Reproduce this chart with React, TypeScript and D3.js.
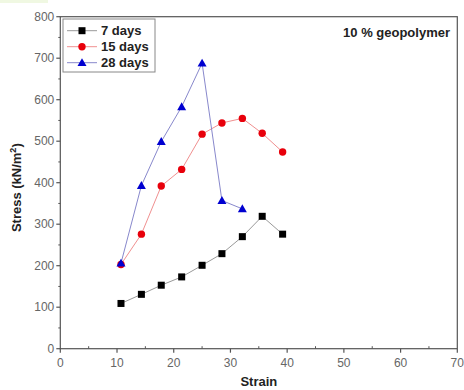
import React from "react";
import * as d3 from "d3";

const strain = [10.7, 14.3, 17.8, 21.4, 25.0, 28.5, 32.1, 35.6, 39.2];
const stress7 = [109, 131, 153, 173, 201, 229, 270, 319, 276];
const stress15 = [203, 276, 392, 432, 517, 544, 555, 519, 474];
const stress28 = [206, 393, 499, 583, 688, 357, 337];
const seriesNames = ["7 days", "15 days", "28 days"];
const xTicks = [0, 10, 20, 30, 40, 50, 60, 70];
const yTicks = [0, 100, 200, 300, 400, 500, 600, 700, 800];
const xMinor = [5, 15, 25, 35, 45, 55, 65];
const yMinor = [50, 150, 250, 350, 450, 550, 650, 750];

const W = 464, H = 390;
const L = 60.3, R = 457.3, T = 16.7, B = 348.7;

export default function App() {
  const x = d3.scaleLinear().domain([0, 70]).range([L, R]);
  const y = d3.scaleLinear().domain([0, 800]).range([B, T]);
  const line = d3.line<[number, number]>().x(d => x(d[0])).y(d => y(d[1]));
  const s7 = strain.map((s, i) => [s, stress7[i]] as [number, number]);
  const s15 = strain.map((s, i) => [s, stress15[i]] as [number, number]);
  const s28 = stress28.map((v, i) => [strain[i], v] as [number, number]);
  const axisCol = "#555";
  const tickFont = { fontFamily: "Arial, 'Liberation Sans', sans-serif", fontSize: 12, fill: "#666" };
  const bold = { fontFamily: "Arial, 'Liberation Sans', sans-serif", fontSize: 13, fontWeight: 700, fill: "#222" };
  const tri = (cx: number, cy: number, s = 4.5) =>
    `M${cx},${cy - s}L${cx + s},${cy + s * 0.75}L${cx - s},${cy + s * 0.75}Z`;
  const legendRows = [
    { name: seriesNames[0], line: "#999", kind: "sq" },
    { name: seriesNames[1], line: "#f09090", kind: "ci" },
    { name: seriesNames[2], line: "#8888cc", kind: "tr" },
  ];
  const marker = (kind: string, cx: number, cy: number, key: any) => {
    if (kind === "sq") return <rect key={key} x={cx - 3.5} y={cy - 3.5} width={7} height={7} fill="#000" />;
    if (kind === "ci") return <circle key={key} cx={cx} cy={cy} r={3.7} fill="#e8000b" />;
    return <path key={key} d={tri(cx, cy)} fill="#0000d0" />;
  };
  return (
    <svg width={W} height={H} style={{ position: "absolute", left: 0, top: 0, background: "#fff" }}>
      <rect x={0} y={0} width={48} height={3} fill="#f0f8e2" />
      <rect x={L} y={T} width={R - L} height={B - T} fill="none" stroke={axisCol} strokeWidth={1.2} />
      {yTicks.map(t => (
        <g key={"y" + t}>
          <line x1={L - 4} x2={L} y1={y(t)} y2={y(t)} stroke={axisCol} strokeWidth={1.2} />
          <text x={L - 6} y={y(t)} dy="0.35em" textAnchor="end" {...tickFont}>{t}</text>
        </g>
      ))}
      {yMinor.map(t => (
        <line key={"ym" + t} x1={L - 2} x2={L} y1={y(t)} y2={y(t)} stroke={axisCol} strokeWidth={1} />
      ))}
      {xTicks.map(t => (
        <g key={"x" + t}>
          <line x1={x(t)} x2={x(t)} y1={B} y2={B + 4} stroke={axisCol} strokeWidth={1.2} />
          <text x={x(t)} y={B + 18} textAnchor="middle" {...tickFont}>{t}</text>
        </g>
      ))}
      {xMinor.map(t => (
        <line key={"xm" + t} x1={x(t)} x2={x(t)} y1={B - 2.5} y2={B} stroke={axisCol} strokeWidth={1} />
      ))}
      <path d={line(s7) || ""} fill="none" stroke="#999" strokeWidth={1} />
      <path d={line(s15) || ""} fill="none" stroke="#f09090" strokeWidth={1} />
      <path d={line(s28) || ""} fill="none" stroke="#8888cc" strokeWidth={1} />
      {s7.map((d, i) => marker("sq", x(d[0]), y(d[1]), "a" + i))}
      {s15.map((d, i) => marker("ci", x(d[0]), y(d[1]), "b" + i))}
      {s28.map((d, i) => marker("tr", x(d[0]), y(d[1]), "c" + i))}
      <rect x={63} y={19} width={92} height={53} fill="#fff" stroke="#888" strokeWidth={1} />
      {legendRows.map((r, i) => {
        const ly = 30.7 + i * 16;
        return (
          <g key={"l" + i}>
            <line x1={67} x2={97} y1={ly} y2={ly} stroke={r.line} strokeWidth={1} />
            {marker(r.kind, 82, ly, "lm" + i)}
            <text x={101} y={ly} dy="0.35em" {...bold}>{r.name}</text>
          </g>
        );
      })}
      <text x={450} y={37} textAnchor="end" {...bold}>10 % geopolymer</text>
      <text x={(L + R) / 2} y={386} textAnchor="middle" {...bold}>Strain</text>
      <text transform={`translate(21,${(T + B) / 2 + 5}) rotate(-90)`} textAnchor="middle" {...bold}>
        Stress (kN/m<tspan dy="-5" fontSize={9}>2</tspan><tspan dy="5">)</tspan>
      </text>
    </svg>
  );
}
